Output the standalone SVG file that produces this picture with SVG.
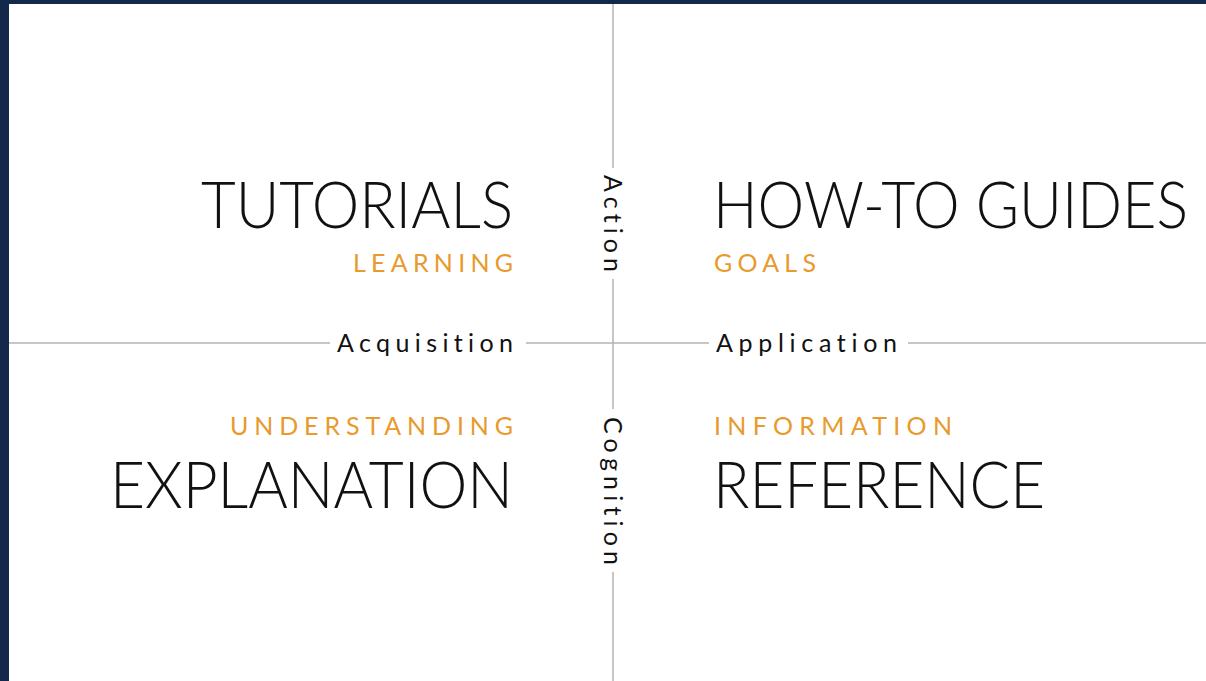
<svg xmlns="http://www.w3.org/2000/svg" width="1206" height="681" viewBox="0 0 1206 681">
<style>
text{font-variant-ligatures:none;font-feature-settings:"liga" 0,"clig" 0}
.title{font-family:Lato,"Open Sans","Liberation Sans",sans-serif;font-weight:300;font-size:66px;fill:#111}
.sub{font-family:Lato,"Open Sans","Liberation Sans",sans-serif;font-weight:400;font-size:25px;fill:#e89a2c}
.axis{font-family:Lato,"Open Sans","Liberation Sans",sans-serif;font-weight:400;font-size:25px;fill:#111}
.line{stroke:#b3b3b3;stroke-width:1.5;fill:none}
</style>
<rect x="0" y="0" width="1206" height="681" fill="#ffffff"/>
<rect x="0" y="0" width="1206" height="4" fill="#13284a"/>
<rect x="0" y="0" width="9" height="681" fill="#13284a"/>
<g id="connectors">
<line class="line" x1="9" y1="343" x2="330" y2="343"/>
<line class="line" x1="526" y1="343" x2="709" y2="343"/>
<line class="line" x1="908" y1="343" x2="1206" y2="343"/>
<line class="line" x1="613" y1="4" x2="613" y2="168"/>
<line class="line" x1="613" y1="279" x2="613" y2="409"/>
<line class="line" x1="613" y1="572" x2="613" y2="681"/>
</g>
<g id="tutorials">
<text class="title" x="513" y="228" text-anchor="end" textLength="312" lengthAdjust="spacingAndGlyphs">TUTORIALS</text>
<text class="sub" x="513" y="272" text-anchor="end" textLength="160" lengthAdjust="spacing">LEARNING</text>
</g>
<g id="howto">
<text class="title" x="713" y="228" textLength="475" lengthAdjust="spacingAndGlyphs">HOW-TO GUIDES</text>
<text class="sub" x="714" y="272" textLength="102" lengthAdjust="spacing">GOALS</text>
</g>
<g id="explanation">
<text class="sub" x="513" y="435" text-anchor="end" textLength="283" lengthAdjust="spacing">UNDERSTANDING</text>
<text class="title" x="513" y="508" text-anchor="end" textLength="403" lengthAdjust="spacingAndGlyphs">EXPLANATION</text>
</g>
<g id="reference">
<text class="sub" x="714" y="435" textLength="238" lengthAdjust="spacing">INFORMATION</text>
<text class="title" x="713" y="508" textLength="332" lengthAdjust="spacingAndGlyphs">REFERENCE</text>
</g>
<g id="axes">
<text class="axis" x="337" y="352" textLength="176" lengthAdjust="spacing">Acquisition</text>
<text class="axis" x="716" y="352" textLength="181" lengthAdjust="spacing">Application</text>
<text class="axis" transform="translate(604,175) rotate(90)" x="0" y="0" textLength="97" lengthAdjust="spacing">Action</text>
<text class="axis" transform="translate(604,417) rotate(90)" x="0" y="0" textLength="148" lengthAdjust="spacing">Cognition</text>
</g>
</svg>
